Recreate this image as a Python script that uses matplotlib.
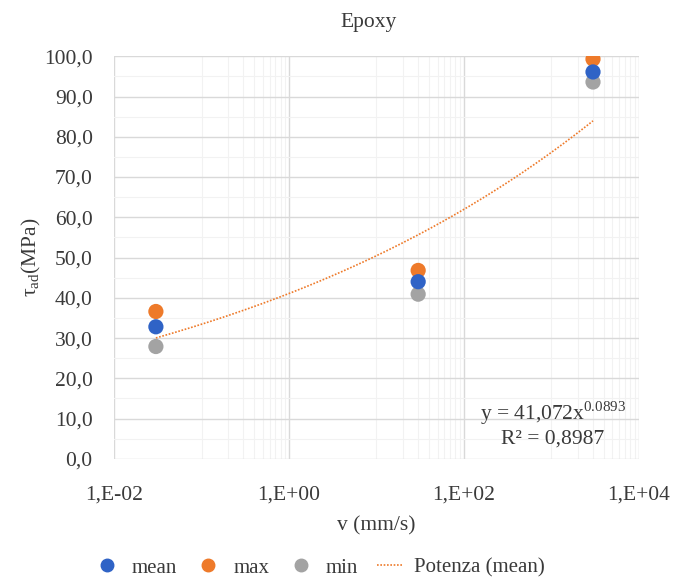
import matplotlib
matplotlib.use('Agg')
import matplotlib.pyplot as plt
import numpy as np
from matplotlib.ticker import LogLocator, FixedLocator, FuncFormatter, NullFormatter
from matplotlib.lines import Line2D

plt.rcParams['font.family'] = ['Liberation Serif', 'DejaVu Serif']
plt.rcParams['mathtext.fontset'] = 'custom'
plt.rcParams['mathtext.rm'] = 'Liberation Serif'

# test speeds (mm/s) and adhesive shear strength (MPa)
speed = [0.03, 30.0, 3000.0]
tau_mean = [32.8, 44.0, 96.1]
tau_max = [36.6, 46.8, 99.3]
tau_min = [27.9, 40.9, 93.6]

# power-law trend fitted on the mean values
fit_a = 41.072
fit_b = 0.0893
fit_r2 = 0.8987

c_mean = '#2f63c6'
c_max = '#ee7a2a'
c_min = '#a3a3a3'
grid_major = '#d9d9d9'
grid_minor = '#f2f2f2'
txt = '#3a3a3a'

fig = plt.figure(figsize=(6.92, 5.86), dpi=100)
ax = fig.add_axes([0.165, 0.217, 0.758, 0.687])

xs = np.logspace(np.log10(speed[0]), np.log10(speed[-1]), 200)
ax.plot(xs, fit_a * xs**fit_b, ls=(0, (1, 1)), lw=1.2, color=c_max, zorder=3)

ax.scatter(speed, tau_min, s=120, color=c_min, zorder=4, edgecolors='none')
ax.scatter(speed, tau_mean, s=120, color=c_mean, zorder=5, edgecolors='none')
ax.scatter(speed, tau_max, s=120, color=c_max, zorder=4, edgecolors='none')

ax.set_xscale('log')
ax.set_xlim(1e-2, 1e4)
ax.set_ylim(0, 100)

ax.xaxis.set_major_locator(FixedLocator([1e-2, 1e0, 1e2, 1e4]))
ax.xaxis.set_minor_locator(LogLocator(base=100, subs=np.arange(10, 100, 10)))
ax.xaxis.set_minor_formatter(NullFormatter())
ax.xaxis.set_major_formatter(FuncFormatter(lambda v, p: '1,E%+03d' % int(round(np.log10(v)))))

ax.set_yticks(np.arange(0, 101, 10))
ax.set_yticks(np.arange(5, 100, 10), minor=True)
ax.yaxis.set_major_formatter(FuncFormatter(lambda v, p: ('%.1f' % v).replace('.', ',')))

ax.grid(True, which='major', color=grid_major, lw=1.0)
ax.grid(True, which='minor', color=grid_minor, lw=0.8)
ax.set_axisbelow(True)
for s in ax.spines.values():
    s.set_visible(False)
ax.tick_params(which='both', length=0, labelsize=15.5, colors=txt)
ax.tick_params(axis='y', pad=15.5)
ax.tick_params(axis='x', pad=19)

ax.set_xlabel('v (mm/s)', fontsize=15.5, color=txt, labelpad=9)
ax.set_ylabel('τ$_{\\mathrm{ad}}$(MPa)', fontsize=15.5, color=txt, labelpad=1)
fig.text(0.532, 0.962, 'Epoxy', ha='center', va='center', fontsize=15.5, color=txt)

ax.text(0.836, 0.087, 'y = 41,072x$^{%.4f}$\nR² = %s' % (fit_b, ('%.4f' % fit_r2).replace('.', ',')),
        transform=ax.transAxes, ha='center', va='center', fontsize=15.5, color=txt,
        linespacing=1.15)

handles = [
    Line2D([], [], marker='o', ls='none', color=c_mean, markersize=9),
    Line2D([], [], marker='o', ls='none', color=c_max, markersize=9),
    Line2D([], [], marker='o', ls='none', color=c_min, markersize=9),
    Line2D([], [], ls=(0, (1, 1)), lw=1.2, color=c_max),
]
fig.legend(handles, ['mean', 'max', 'min', 'Potenza (mean)'], loc='center',
           bbox_to_anchor=(0.462, 0.031), ncol=4, frameon=False, fontsize=15,
           handlelength=1.2, handletextpad=0.6, columnspacing=0.9, labelcolor=txt)

fig.savefig('out.png', dpi=100, facecolor='white')
